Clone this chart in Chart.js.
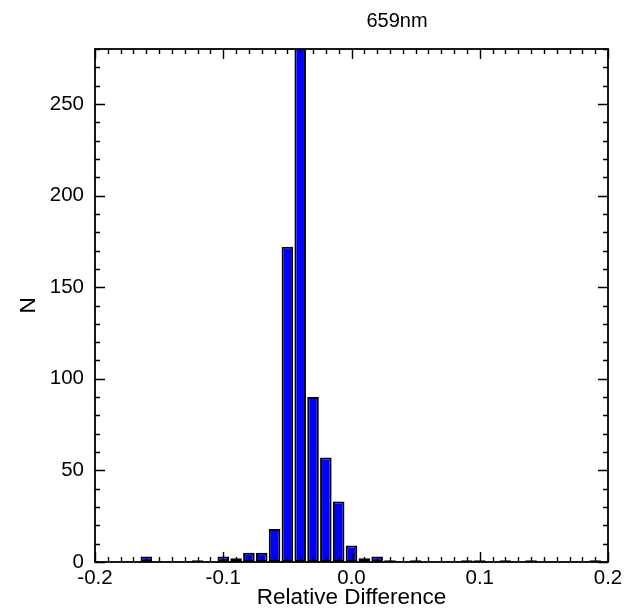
<!DOCTYPE html>
<html>
<head>
<meta charset="utf-8">
<title>659nm</title>
<script src="https://cdn.jsdelivr.net/npm/chart.js@4/dist/chart.umd.min.js"></script>
<style>
  html, body { margin: 0; padding: 0; background: #fff; }
  #wrap { width: 629px; height: 615px; position: relative; }
</style>
</head>
<body>
<div id="wrap"><canvas id="hist"></canvas></div>
<script>
// Histogram bin centres (relative difference), 0.01 wide
const binCenters = [
  -0.20, -0.19, -0.18, -0.17, -0.16, -0.15, -0.14, -0.13, -0.12, -0.11,
  -0.10, -0.09, -0.08, -0.07, -0.06, -0.05, -0.04, -0.03, -0.02, -0.01,
   0.00,  0.01,  0.02,  0.03,  0.04,  0.05,  0.06,  0.07,  0.08,  0.09,
   0.10,  0.11,  0.12,  0.13,  0.14,  0.15,  0.16,  0.17,  0.18,  0.19,
   0.20
];
// Number of samples in each bin
const counts = [
    0,   0,   0,   0,   3,   0,   0,   0,   1,   0,
    3,   2,   5,   5,  18, 172, 300,  90,  57,  33,
    9,   2,   3,   1,   0,   1,   0,   0,   0,   1,
    1,   0,   1,   0,   1,   0,   0,   0,   0,   1,
    0
];
const xTickLabels = ['-0.2', '-0.1', '0.0', '0.1', '0.2'];
const yTickValues = [0, 50, 100, 150, 200, 250];

const chartTitle = '659nm';
const xTitle = 'Relative Difference';
const yTitle = 'N';

const FONT = '"Liberation Sans", Arial, Helvetica, sans-serif';
Chart.defaults.font.family = FONT;
Chart.defaults.color = '#000';

// Frame with inward major/minor ticks on all four sides, plus the plot title
const framePlugin = {
  id: 'frame',
  afterDatasetsDraw(chart) {
    const { ctx, chartArea: { left, right, top, bottom }, scales: { x, y } } = chart;
    ctx.save();
    ctx.strokeStyle = '#000';
    ctx.lineWidth = 1.4;
    ctx.beginPath();
    for (let i = -20; i <= 20; i++) {
      const px = Math.round(x.getPixelForValue(i / 100)) + 0.5;
      const len = (i % 10 === 0) ? 10 : 5;
      ctx.moveTo(px, bottom); ctx.lineTo(px, bottom - len);
      ctx.moveTo(px, top); ctx.lineTo(px, top + len);
    }
    for (let v = 0; v <= y.max; v += 10) {
      const py = Math.round(y.getPixelForValue(v)) + 0.5;
      const len = (v % 50 === 0) ? 10 : 5;
      ctx.moveTo(left, py); ctx.lineTo(left + len, py);
      ctx.moveTo(right, py); ctx.lineTo(right - len, py);
    }
    ctx.stroke();
    ctx.lineWidth = 1.8;
    ctx.strokeRect(left, top, right - left, bottom - top);
    ctx.restore();
  },
  afterDraw(chart) {
    const { ctx } = chart;
    ctx.save();
    ctx.fillStyle = '#000';
    ctx.font = '20px ' + FONT;
    ctx.textAlign = 'center';
    ctx.textBaseline = 'alphabetic';
    ctx.fillText(chartTitle, 397, 27);
    ctx.restore();
  }
};

new Chart(document.getElementById('hist'), {
  type: 'bar',
  data: {
    datasets: [{
      data: binCenters.map((c, i) => ({ x: c, y: counts[i] })),
      backgroundColor: '#0000ff',
      borderColor: '#000',
      borderWidth: 2,
      borderSkipped: false,
      barPercentage: 0.9,
      categoryPercentage: 1.0
    }]
  },
  options: {
    responsive: true,
    maintainAspectRatio: false,
    animation: false,
    layout: { padding: { left: 0, right: 21, top: 49, bottom: 0 } },
    plugins: { legend: { display: false }, tooltip: { enabled: false }, title: { display: false } },
    scales: {
      x: {
        type: 'linear',
        offset: false,
        min: -0.2,
        max: 0.2,
        grid: { display: false, drawTicks: false },
        border: { display: false },
        ticks: {
          stepSize: 0.1,
          padding: 4,
          maxRotation: 0,
          font: { size: 20.5 },
          color: '#000',
          callback: (v) => xTickLabels[Math.round((v + 0.2) / 0.1)]
        },
        title: { display: true, text: xTitle, font: { size: 22.5 }, color: '#000', padding: { top: 0, bottom: 4 } },
        afterFit: (s) => { s.height = 53; }
      },
      y: {
        min: 0,
        max: 280,
        grid: { display: false, drawTicks: false },
        border: { display: false },
        afterBuildTicks: (s) => { s.ticks = yTickValues.map(v => ({ value: v })); },
        ticks: { padding: 11, font: { size: 20.5 }, color: '#000' },
        title: { display: true, text: yTitle, font: { size: 22.5 }, color: '#000', padding: { top: 15, bottom: 0 } },
        afterFit: (s) => { s.width = 95; }
      }
    }
  },
  plugins: [framePlugin]
});
</script>
</body>
</html>
